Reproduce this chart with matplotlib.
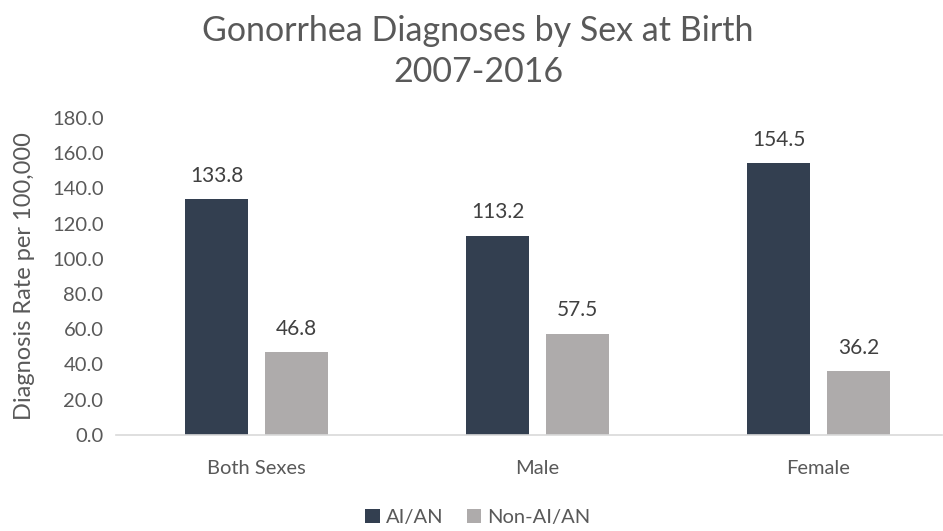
import numpy as np
import matplotlib.pyplot as plt

plt.rcParams['font.family'] = ['Lato', 'DejaVu Sans']

categories = ["Both Sexes", "Male", "Female"]
aian = [133.8, 113.2, 154.5]
non_aian = [46.8, 57.5, 36.2]

txt = "#595959"
fig = plt.figure(figsize=(9.43, 5.31), dpi=100)
ax = fig.add_axes([0.123, 0.181, 0.876, 0.597])

x = np.arange(len(categories))
w = 0.224
off = 0.142
b1 = ax.bar(x - off, aian, w, color="#333F50", label="AI/AN")
b2 = ax.bar(x + off, non_aian, w, color="#AEABAB", label="Non-AI/AN")

for bars, vals in ((b1, aian), (b2, non_aian)):
    for r, v in zip(bars, vals):
        ax.text(r.get_x() + r.get_width() / 2, v + 7.5, f"{v:.1f}",
                ha="center", va="bottom", fontsize=15, color="#404040")

ax.set_xlim(-0.5, 2.44)
ax.set_ylim(0, 180)
ax.set_yticks(np.arange(0, 181, 20))
ax.set_yticklabels([f"{t:.1f}" for t in np.arange(0, 181, 20)])
ax.set_xticks(x)
ax.set_xticklabels(categories)
ax.tick_params(axis="both", length=0, labelsize=14.5, colors=txt, pad=9)
ax.tick_params(axis="x", pad=18)
for s in ("top", "right", "left"):
    ax.spines[s].set_visible(False)
ax.spines["bottom"].set_color("#D9D9D9")
ax.spines["bottom"].set_linewidth(1.2)

ax.set_ylabel("Diagnosis Rate per 100,000", fontsize=17, color=txt)
ax.yaxis.set_label_coords(-0.098, 0.5)
fig.text(0.507, 0.972, "Gonorrhea Diagnoses by Sex at Birth\n2007-2016",
         ha="center", va="top", fontsize=24.5, color=txt, linespacing=1.36)

fig.legend(handles=[b1, b2], loc="lower center", bbox_to_anchor=(0.507, -0.025),
           ncol=2, frameon=False, fontsize=14.5, labelcolor=txt,
           handlelength=0.7, handleheight=0.7, handletextpad=0.3, columnspacing=1.2)

fig.savefig("out.png", dpi=100)
